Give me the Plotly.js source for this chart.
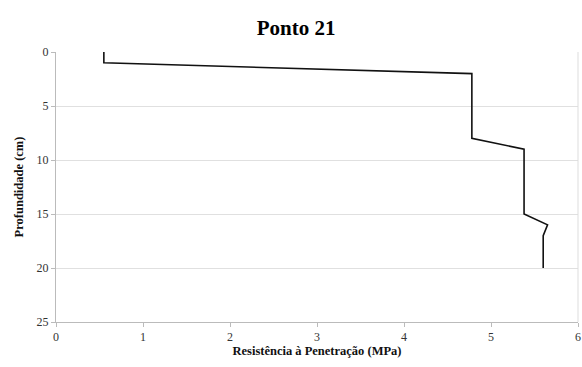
<!DOCTYPE html>
<html>
<head>
<meta charset="utf-8">
<script src="https://cdn.plot.ly/plotly-3.0.1.min.js"></script>
<style>html,body{margin:0;padding:0;background:#fff;}#chart{width:582px;height:367px;}</style>
</head>
<body>
<div id="chart"></div>
<script>
// Penetration resistance profile (MPa) by depth (cm)
const resistance = [0.55, 0.55, 4.78, 4.78, 5.38, 5.38, 5.65, 5.60, 5.60];
const depth      = [0,    1,    2,    8,    9,    15,   16,   17,   20];
const xTicks = [0, 1, 2, 3, 4, 5, 6];
const yTicks = [0, 5, 10, 15, 20, 25];

const serif = '"Times New Roman", "Liberation Serif", "DejaVu Serif", serif';

Plotly.newPlot('chart', [{
  x: resistance,
  y: depth,
  type: 'scatter',
  mode: 'lines',
  line: {color: '#111', width: 1.6},
  hoverinfo: 'skip'
}], {
  width: 582,
  height: 367,
  margin: {l: 56, r: 4, t: 52, b: 45},
  paper_bgcolor: '#fff',
  plot_bgcolor: '#fff',
  showlegend: false,
  font: {family: serif, size: 12, color: '#333'},
  title: {
    text: '<b>Ponto 21</b>',
    font: {family: serif, size: 21, color: '#000'},
    xref: 'paper', x: 0.46, xanchor: 'center',
    yref: 'container', y: 0.925, yanchor: 'middle'
  },
  xaxis: {
    range: [0, 6],
    tickvals: xTicks,
    ticktext: xTicks.map(String),
    showgrid: false,
    zeroline: false,
    showline: true,
    linecolor: '#bbb',
    linewidth: 1,
    ticks: 'outside',
    ticklen: 4,
    tickcolor: '#bbb',
    tickfont: {family: serif, size: 12, color: '#333'},
    title: {text: '<b>Resistência à Penetração (MPa)</b>', font: {family: serif, size: 12.5, color: '#111'}, standoff: 2},
    fixedrange: true
  },
  yaxis: {
    range: [25, 0],
    tickvals: yTicks,
    ticktext: yTicks.map(String),
    showgrid: true,
    gridcolor: '#e0e0e0',
    gridwidth: 1,
    zeroline: false,
    showline: true,
    linecolor: '#bbb',
    ticks: 'outside',
    ticklen: 4,
    tickcolor: '#bbb',
    tickfont: {family: serif, size: 12, color: '#333'},
    title: {text: '<b>Profundidade (cm)</b>', font: {family: serif, size: 12.5, color: '#111'}, standoff: 10},
    fixedrange: true
  },
  shapes: [{
    type: 'line', xref: 'paper', yref: 'paper',
    x0: 1, x1: 1, y0: 0, y1: 1,
    line: {color: '#ddd', width: 1}
  }]
}, {staticPlot: true, displayModeBar: false});
</script>
</body>
</html>
